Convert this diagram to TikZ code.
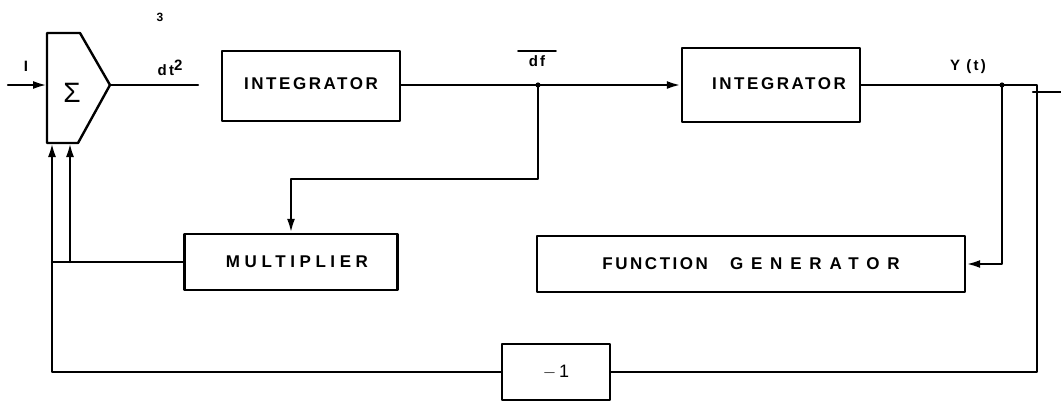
\documentclass[tikz,border=0pt]{standalone}
\usepackage{fontspec}
\setsansfont{Liberation Sans}
\newfontfamily\blkfont[LetterSpace=15]{Liberation Sans}
\newfontfamily\midfont[LetterSpace=27]{Liberation Sans}
\newfontfamily\widefont[LetterSpace=46]{Liberation Sans}
\usetikzlibrary{arrows.meta}

\begin{document}
\begin{tikzpicture}[line cap=round,line join=round,>={Latex[length=14pt,width=8pt]},x=1pt,y=-1pt,line width=2.4pt,
    blk/.style={draw,inner sep=0pt,font=\blkfont\bfseries\fontsize{17}{19}\selectfont},
    lbl/.style={inner sep=0pt,font=\blkfont\bfseries\fontsize{15}{17}\selectfont}]
    \useasboundingbox (0,0) rectangle (1061,402);
    % summing block
    \draw (47,33) -- (80,33) -- (110,85) -- (78,143) -- (47,143) -- cycle;
    \node (sum) at (72,93) {\sffamily\fontsize{28}{30}\selectfont Σ};
    \coordinate (sumin) at (47,85);
    \coordinate (sumout) at (110,85);
    \coordinate (sumfb) at (52,143);
    \coordinate (summul) at (70,143);
    % blocks
    \node[blk,minimum width=178pt,minimum height=70pt] (int1) at (311,86) {\raisebox{4pt}{INTEGRATOR}};
    \node[blk,minimum width=178pt,minimum height=74pt] (int2) at (771,85) {\hspace{16pt}\raisebox{2pt}{INTEGRATOR}};
    \node[blk,minimum width=213pt,minimum height=56pt] (mult) at (291,262) {\hspace{12pt}\midfont\bfseries MULTIPLIER};
    \node[blk,minimum width=428pt,minimum height=56pt] (fgen) at (751,264) {FUNCTION\hspace{22pt}{\widefont\bfseries GENERATOR}};
    \node[blk,minimum width=108pt,minimum height=56pt,font=\sffamily\fontsize{18}{20}\selectfont] (neg) at (556,372) {$-$\,1};
    % junctions
    \coordinate (dtend) at (198,85);
    \coordinate (dfjoin) at (538,85);
    \coordinate (yjoin) at (1002,85);
    \coordinate (yturn) at (1037,85);
    \coordinate (mjoin) at (70,262);
    \coordinate (src) at (8,85);
    % connectors
    \draw [->] (src) -- (sumin);
    \draw (sumout) -- (dtend);
    \draw [->] (int1.east |- dfjoin) -- (int2.west);
    \draw [->] (dfjoin) -- (538,179) -| (mult.north);
    \draw (int2.east) -- (yturn) |- (neg.east);
    \draw [->] (neg.west) -| (sumfb);
    \draw (mult.west) -- (52,262);
    \draw [->] (mjoin) -- (summul);
    \draw [->] (yjoin) |- (fgen.east);
    \draw (1033,92) -- (1061,92);
    \fill (dfjoin) circle (2.6pt);
    \fill (yjoin) circle (2.6pt);
    % labels
    \node[lbl] (lin) at (26,66) {I};
    \node[lbl,font=\blkfont\bfseries\fontsize{12}{14}\selectfont] (lnum) at (160,17) {3};
    \node[lbl] (ldt) at (170,68) {dt\raisebox{5pt}{2}};
    \node[lbl] (ldf) at (537,61) {df};
    \draw [line width=1.8pt] (518,51) -- (556,51);
    \node[lbl] (ly) at (968,67) {Y (t)};
\end{tikzpicture}
\end{document}
